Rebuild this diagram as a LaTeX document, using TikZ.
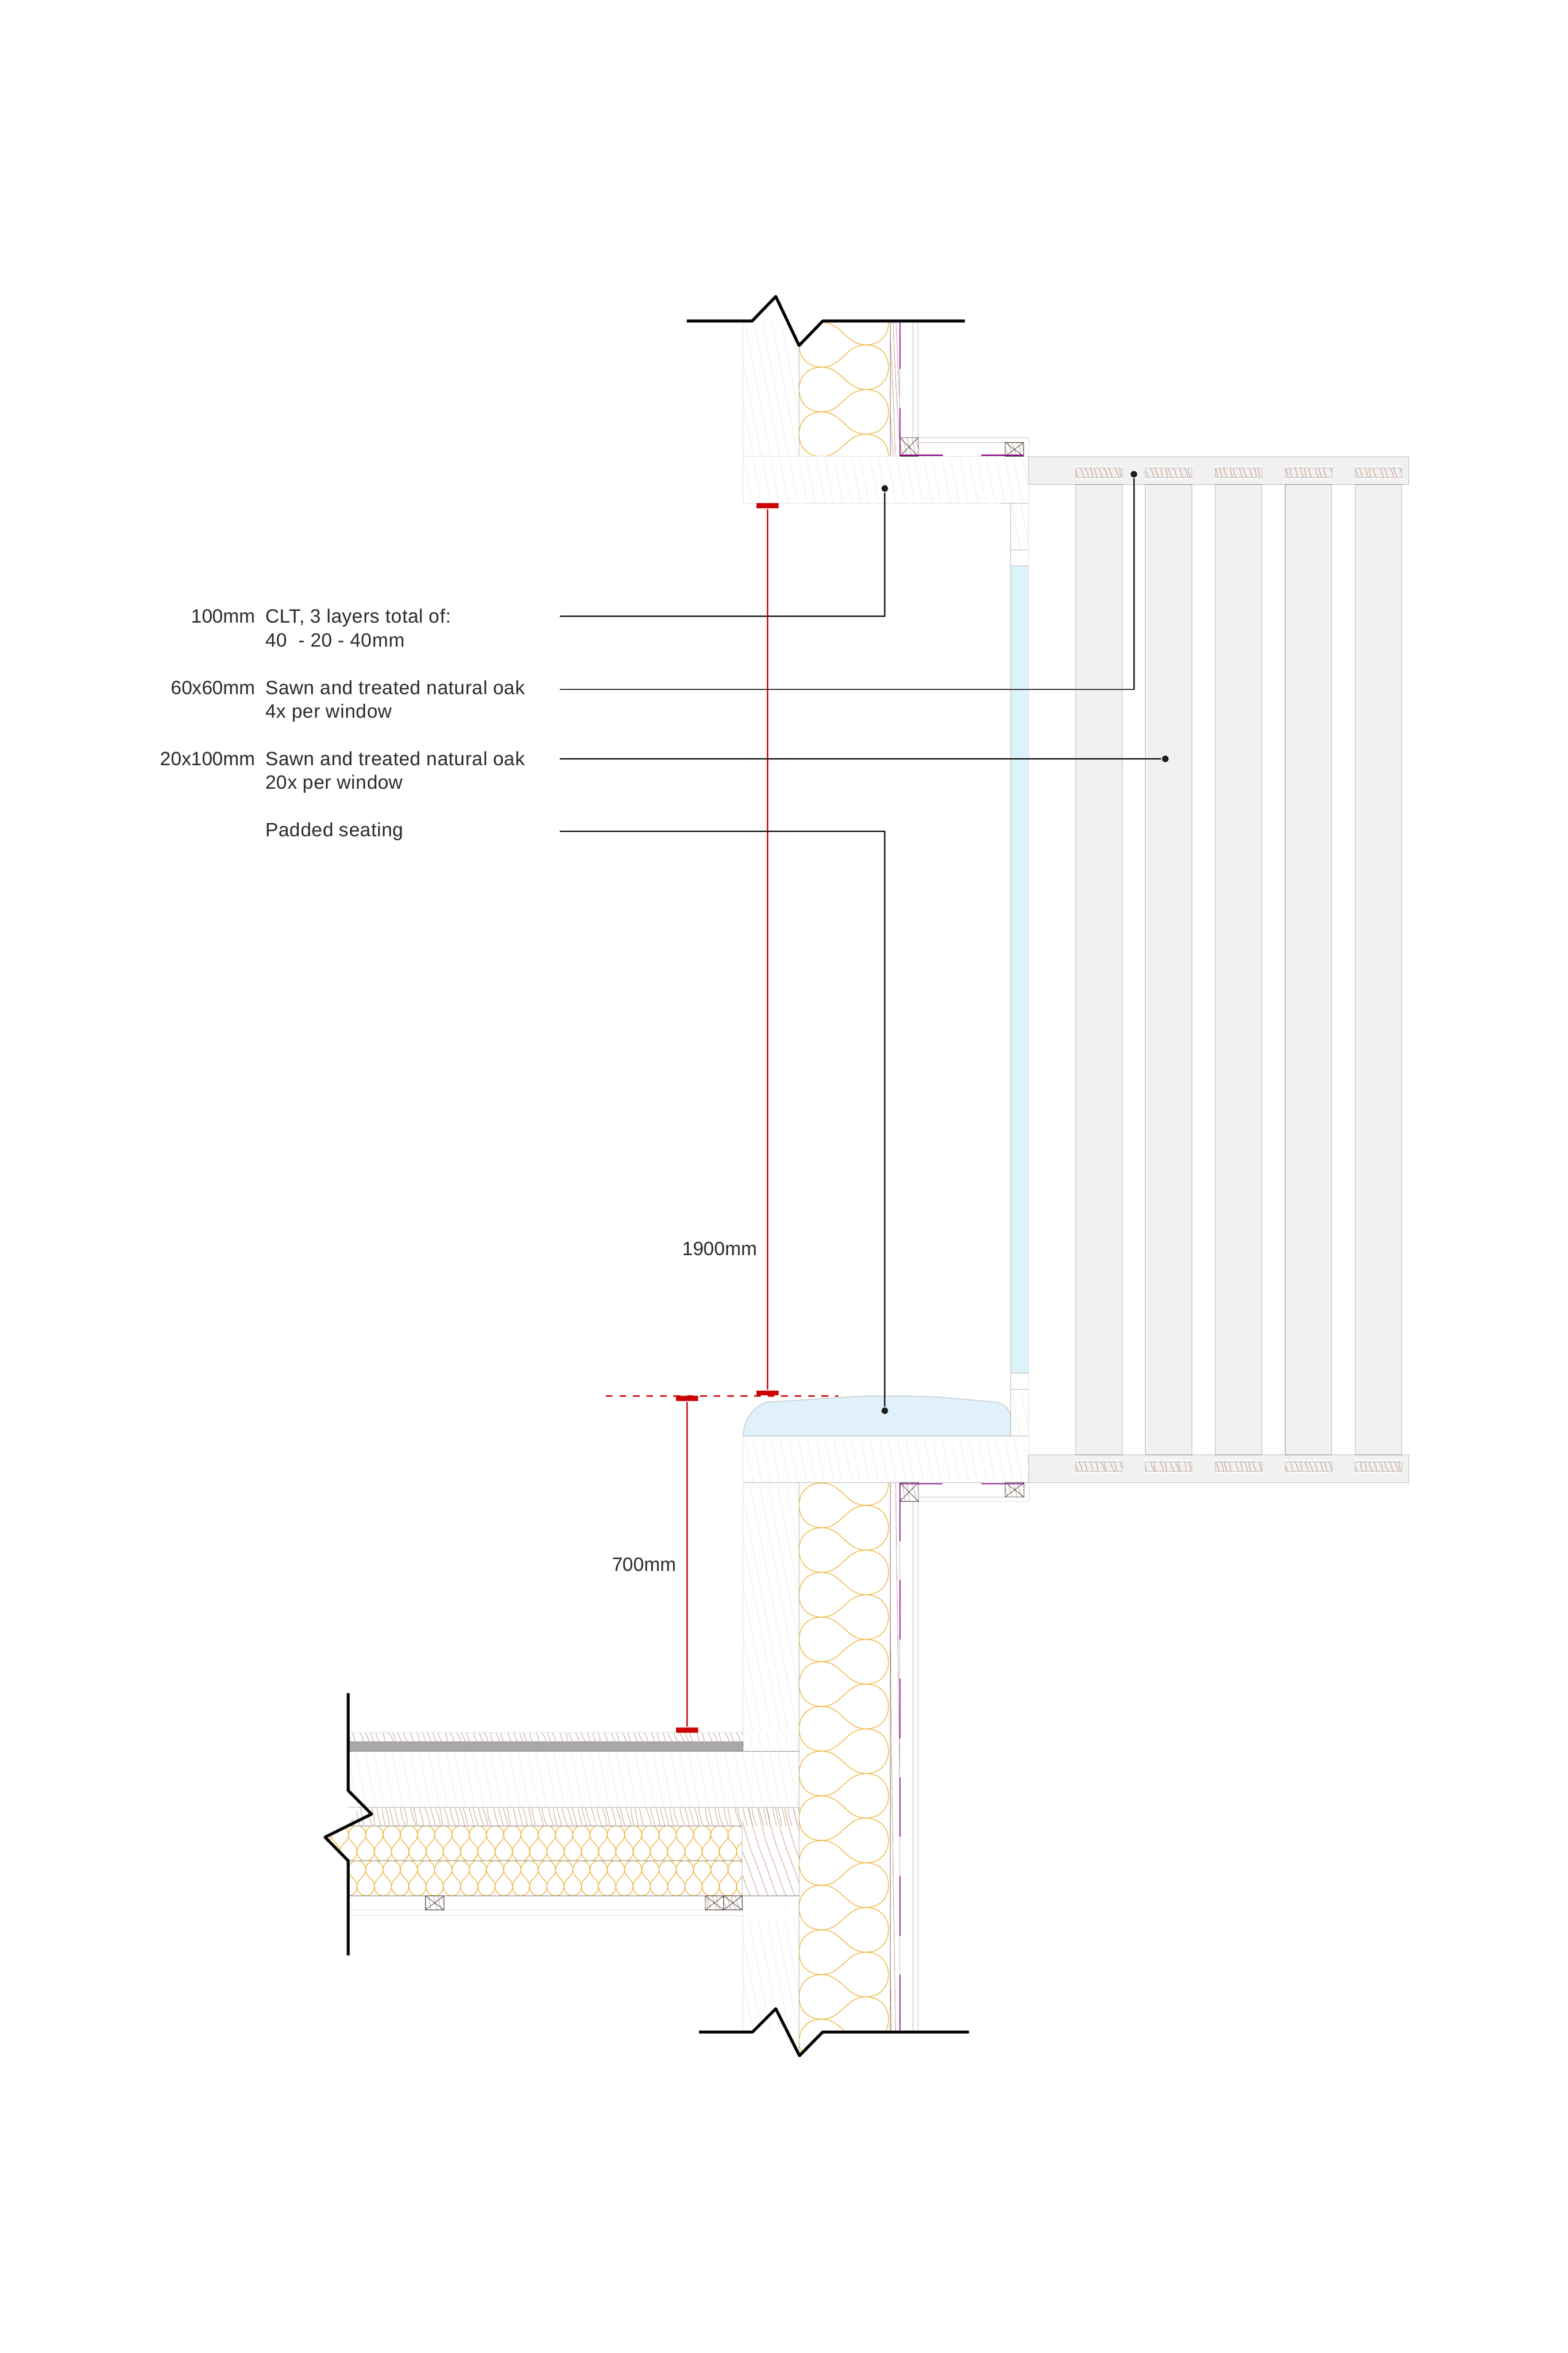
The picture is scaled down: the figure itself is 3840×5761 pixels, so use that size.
\documentclass[tikz,border=0pt]{standalone}
\usepackage{fontspec}
\setmainfont{Liberation Sans}
\definecolor{pale}{HTML}{DEDEDE}
\definecolor{midl}{HTML}{B4B4B4}
\definecolor{darkl}{HTML}{6E6E6E}
\definecolor{hatchc}{HTML}{EBEBEB}
\definecolor{grainc}{HTML}{BD8F7C}
\definecolor{slatc}{HTML}{C4866A}
\definecolor{insu}{HTML}{EDB02E}
\definecolor{purp}{HTML}{8E0F8E}
\definecolor{redd}{HTML}{CC0000}
\definecolor{clad}{HTML}{F1F1F1}
\definecolor{glass}{HTML}{DDF3FC}
\definecolor{cush}{HTML}{E0F1FB}
\definecolor{ink}{HTML}{1E1E1E}
\definecolor{labink}{HTML}{2C2C2C}
\tikzset{
  thinl/.style={line width=0.12pt,draw=midl},
  palel/.style={line width=0.15pt,draw=pale},
  darkline/.style={line width=0.11pt,draw=darkl},
  breakline/.style={line width=0.72pt,draw=black,line join=round},
  insuline/.style={line width=0.16pt,draw=insu},
  purpline/.style={line width=0.28pt,draw=purp},
  leader/.style={line width=0.32pt,draw=ink},
  dimline/.style={line width=0.3pt,draw=redd},
  tbar/.style={fill=redd,inner sep=0pt,minimum width=5.4pt,minimum height=1.25pt},
  ldot/.style={circle,fill=ink,inner sep=0pt,minimum size=1.6pt},
  lab/.style={inner sep=0pt,font=\fontsize{4.7pt}{5.6pt}\selectfont,text=labink},
  labw/.style={inner sep=0pt,font=\fontsize{4.7pt}{5.6pt}\selectfont\addfontfeature{LetterSpace=2},text=labink},
}
% hatching: x1 y1 x2 y2 step dx colour width wobble
\newcommand{\lineset}[9]{%
  \begin{scope}
    \clip (#1,#2) rectangle (#3,#4);
    \pgfmathsetmacro{\nn}{int((#3-#1+abs(#6))/#5)}
    \foreach \i in {0,...,\nn}{
      \pgfmathsetmacro{\xa}{#1-abs(#6)+#5*\i+rnd*#9}
      \pgfmathsetmacro{\xb}{\xa+#6+rnd*#9}
      \pgfmathsetmacro{\xc}{(\xa+\xb)/2+(rnd-0.5)*#9}
      \draw[line width=#8,draw=#7] (\xa,#2) .. controls (\xc,{(#2+#4)/2}) .. (\xb,#4);
    }
  \end{scope}}
\newcommand{\hatchrect}[4]{\lineset{#1}{#2}{#3}{#4}{22}{(#4-#2)*0.19}{hatchc}{0.1pt}{2}}
\newcommand{\woodrect}[6]{\lineset{#1}{#2}{#3}{#4}{#5}{#6}{grainc}{0.1pt}{6}}
\newcommand{\xbatten}[4]{%
  \woodrect{#1}{#2}{#3}{#4}{11}{6}%
  \draw[line width=0.09pt,draw=ink] (#1,#2) rectangle (#3,#4) (#1,#2) -- (#3,#4) (#1,#4) -- (#3,#2);}
\newcommand{\slat}[2]{%
  \draw[line width=0.35pt,draw=white,dash pattern=on 0.9pt off 0.5pt] ({#1-1},{#2-3}) -- ({#1+115},{#2-3}) ({#1-1},{#2+26}) -- ({#1+115},{#2+26});
  \lineset{#1}{#2}{#1+114}{#2+23}{12}{4}{slatc}{0.12pt}{6}%
  \draw[line width=0.11pt,draw=darkl] (#1,#2) -- ({#1+114},#2);
  \draw[line width=0.09pt,draw=midl] (#1,#2) rectangle ({#1+114},{#2+23});}
% wall insulation: first left-node y, last index
\newcommand{\wallpods}[2]{%
  \foreach \k in {-1,...,#2}{
    \pgfmathsetmacro{\ya}{#1+109.4*\k}
    \pgfmathsetmacro{\yb}{\ya+54.7}
    \pgfmathsetmacro{\yc}{\ya+109.4}
    \pgfmathsetmacro{\yd}{\ya+164.1}
    \draw[insuline] (2012,\ya) .. controls (1978,\ya) and (1957,{\ya+24}) .. (1957,\yb)
       .. controls (1957,{\yc-24}) and (1978,\yc) .. (2012,\yc);
    \draw[insuline] (2012,\ya) .. controls (2062,\ya) and (2071,\yb) .. (2121,\yb);
    \draw[insuline] (2012,\yc) .. controls (2062,\yc) and (2071,\yb) .. (2121,\yb);
    \draw[insuline] (2121,\yb) .. controls (2155,\yb) and (2176,{\yb+24}) .. (2176,\yc)
       .. controls (2176,{\yd-24}) and (2155,\yd) .. (2121,\yd);
  }}
% floor insulation row: top y
\newcommand{\floorpods}[1]{%
  \foreach \k in {0,...,24}{
    \pgfmathsetmacro{\xa}{769+42.25*\k}
    \pgfmathsetmacro{\xb}{\xa+21.1}
    \pgfmathsetmacro{\xc}{\xa+42.25}
    \pgfmathsetmacro{\xd}{\xa+63.4}
    \draw[insuline] (\xa,{#1+22}) .. controls (\xa,{#1+9}) and ({\xa+9},#1) .. (\xb,#1)
       .. controls ({\xc-9},#1) and (\xc,{#1+9}) .. (\xc,{#1+22});
    \draw[insuline] (\xa,{#1+22}) .. controls (\xa,{#1+40}) and (\xb,{#1+44}) .. (\xb,{#1+62});
    \draw[insuline] (\xc,{#1+22}) .. controls (\xc,{#1+40}) and (\xb,{#1+44}) .. (\xb,{#1+62});
    \draw[insuline] (\xb,{#1+62}) .. controls (\xb,{#1+75}) and ({\xb+9},{#1+85.5}) .. (\xc,{#1+85.5})
       .. controls ({\xd-9},{#1+85.5}) and (\xd,{#1+75}) .. (\xd,{#1+62});
  }}
\begin{document}
\begin{tikzpicture}[x=0.1pt,y=-0.1pt]
\pgfmathsetseed{17}
\fill[white] (0,0) rectangle (3840,5761);
\useasboundingbox (0,0) rectangle (3840,5761);

%% ---------- head: wall above window ----------
\hatchrect{1820}{786}{1957}{1117}
\hatchrect{1820}{1117}{2520}{1232}
\begin{scope}
  \clip (1950,846) -- (1957,846) -- (2015,786) -- (2180,786) -- (2180,1117) -- (1950,1117) -- cycle;
  \wallpods{789.6}{2}
\end{scope}
\woodrect{2180}{786}{2204}{1117}{9}{14}
\draw[palel] (1820,786) -- (1820,1232) -- (2520,1232) -- (2520,1117);
\draw[palel] (1820,1117) -- (2520,1117);
\draw[thinl] (2451,1232) -- (2520,1232);
\draw[thinl] (1957,846) -- (1957,1117);
\draw[darkline] (2180,786) -- (2180,1117);
\draw[thinl] (2204,786) -- (2204,1117);
\draw[thinl] (2236,786) -- (2236,1071) (2249,786) -- (2249,1071);
\draw[palel] (2249,1071.5) -- (2520,1071.5) -- (2520,1117);
\draw[thinl] (2249,1083.5) -- (2462,1083.5);
\xbatten{2204}{1071.5}{2249}{1117}
\xbatten{2462}{1083.5}{2507}{1117}
\draw[purpline] (2204,786) -- (2204,903) (2204,999) -- (2204,1117);
\draw[purpline] (2204,1115) -- (2309,1115) (2404,1115) -- (2507,1115);

%% ---------- window ----------
\hatchrect{2475}{1232}{2519}{1346}
\hatchrect{2475}{3402}{2519}{3516}
\fill[glass] (2475,1386) rectangle (2519,3362);
\draw[thinl] (2475,1232) -- (2475,3516);
\draw[palel] (2519,1232) -- (2519,3516);
\draw[thinl] (2475,1346) -- (2519,1346) (2475,1386) -- (2519,1386)
             (2475,3362) -- (2519,3362) (2475,3402) -- (2519,3402);

%% ---------- cladding ----------
\fill[clad] (2519,1118) rectangle (3450,1186);
\fill[clad] (2519,3562) rectangle (3450,3630);
\draw[thinl] (2519,1118) rectangle (3450,1186);
\draw[thinl] (2519,3562) rectangle (3450,3630);
\foreach \sx in {2634,2805.25,2976.5,3147.75,3319}{
  \fill[clad] (\sx,1186) rectangle ({\sx+114},3562);
  \draw[thinl] (\sx,1186) -- (\sx,3562) ({\sx+114},1186) -- ({\sx+114},3562);
  \draw[darkline] (\sx,1186) -- ({\sx+114},1186) (\sx,3562) -- ({\sx+114},3562);
  \slat{\sx}{1146}
  \slat{\sx}{3579}
}

%% ---------- sill and cushion ----------
\hatchrect{1820}{3516}{2520}{3630}
\draw[line width=0.12pt,draw=midl,fill=cush] (1820,3516) .. controls (1822,3480) and (1840,3445) .. (1879,3433)
  -- (2081,3420) .. controls (2120,3417) and (2220,3417) .. (2292,3420) -- (2443,3433)
  .. controls (2458,3438) and (2475,3450) .. (2475,3470) -- (2475,3516) -- cycle;
\draw[thinl] (1820,3516) -- (2520,3516) (1820,3630) -- (2520,3630);
\draw[palel] (1820,3516) -- (1820,3630) (2520,3516) -- (2520,3630);

%% ---------- wall below window ----------
\hatchrect{1820}{3630}{1957}{4242}
\hatchrect{1820}{4690}{1957}{4975}
\begin{scope}
  \clip (1950,3630) -- (2180,3630) -- (2180,4975) -- (2015,4975) -- (1958,5033) -- (1950,5033) -- cycle;
  \wallpods{3631}{12}
\end{scope}
\woodrect{2180}{3630}{2204}{4975}{12}{14}
\draw[thinl] (1957,3630) -- (1957,5033);
\draw[palel] (1820,3630) -- (1820,4242) (1820,4690) -- (1820,4975);
\draw[darkline] (2180,3630) -- (2180,4975);
\draw[thinl] (2204,3676) -- (2204,4975);
\draw[thinl] (2236,3676) -- (2236,4975) (2248,3676) -- (2248,4975);
\draw[palel] (2249,3676) -- (2520,3676) -- (2520,3630);
\draw[palel] (2249,3665) -- (2462,3665);
\xbatten{2204}{3630}{2249}{3676}
\xbatten{2462}{3630}{2508}{3665}
\draw[purpline] (2204,3630) -- (2204,3773) (2204,3868) -- (2204,4014) (2204,4110) -- (2204,4256)
                (2204,4352) -- (2204,4497) (2204,4594) -- (2204,4740) (2204,4835) -- (2204,4975);
\draw[purpline] (2204,3633) -- (2308,3633) (2404,3633) -- (2507,3633);

%% ---------- floor ----------
\woodrect{853}{4242}{1820}{4264}{14}{5}
\draw[palel] (853,4242) -- (1820,4242);
\fill[black!34] (853,4264) rectangle (1820,4287.5);
\draw[thinl] (853,4264) -- (1820,4264);
\draw[darkline] (1820,4264) -- (1820,4287.5) (853,4287.5) -- (1957,4287.5);
\hatchrect{853}{4287.5}{1957}{4424.5}
\hatchrect{1820}{4242}{1957}{4287.5}
\draw[palel] (1820,4242) -- (1820,4264);
\begin{scope}
  \clip (880,4424.5) -- (1957,4424.5) -- (1957,4470.5) -- (852,4470.5) -- cycle;
  \woodrect{853}{4424.5}{1957}{4470.5}{12}{8}
\end{scope}
\begin{scope}
  \clip (1819,4424.5) rectangle (1957,4641.5);
  \foreach \sx in {1745,1767,...,1950}{
    \draw[line width=0.1pt,draw=grainc] (\sx,4424.5) .. controls ({\sx+14},4490) and ({\sx+24},4520) .. ({\sx+40},4560)
       .. controls ({\sx+52},4590) and ({\sx+60},4620) .. ({\sx+70},4641.5);
  }
\end{scope}
\begin{scope}
  \clip (851,4470.5) -- (1818,4470.5) -- (1818,4556) -- (853,4556) -- (796,4498) -- cycle;
  \floorpods{4470.5}
\end{scope}
\begin{scope}
  \clip (853,4556) rectangle (1818,4641.5);
  \floorpods{4556}
\end{scope}
\draw[thinl] (853,4424.5) -- (1957,4424.5);
\draw[thinl] (852,4470.5) -- (1818,4470.5) -- (1818,4641.5);
\draw[line width=0.2pt,draw=midl] (853,4556) -- (1818,4556);
\draw[darkline] (853,4641.5) -- (1957,4641.5);
\draw[palel] (853,4676) -- (1819,4676) -- (1819,4690) -- (853,4690);
\xbatten{1042}{4641.5}{1087.5}{4676}
\xbatten{1727}{4641.5}{1772}{4676}
\xbatten{1772}{4641.5}{1818}{4676}

%% ---------- break lines ----------
\draw[breakline] (1682,786) -- (1842,786) -- (1900,726) -- (1957,846) -- (2015,786) -- (2363,786);
\draw[breakline] (1712,4975) -- (1843,4975) -- (1900,4918) -- (1958,5033) -- (2015,4975) -- (2373,4975);
\draw[breakline] (853,4145.5) -- (853,4384) -- (910,4441.5) -- (796,4498) -- (853,4556) -- (853,4787.5);

%% ---------- dimensions ----------
\node[tbar] (ta) at (1880,1238.5) {};
\node[tbar] (tb) at (1880,3410.5) {};
\node[tbar] (tc) at (1683,3424) {};
\node[tbar] (td) at (1683,4236) {};
\coordinate (da) at (1484,3418);
\coordinate (db) at (2053,3418);
\draw[dimline] (ta) -- (tb);
\draw[dimline] (tc) -- (td);
\draw[line width=0.4pt,draw=redd,dash pattern=on 1.65pt off 1.65pt] (da) -- (db);
\node[lab,anchor=base east] (dimA) at (1856,3074) {1900mm};
\node[lab,anchor=base east] (dimB) at (1658,3847) {700mm};

%% ---------- labels and leaders ----------
\node[lab,anchor=base east] (n1) at (627,1525) {100mm};
\node[labw,anchor=base west] (t1a) at (648,1525) {CLT, 3 layers total of:};
\node[labw,anchor=base west] (t1b) at (648,1583.4) {40\ \ - 20 - 40mm};
\node[lab,anchor=base east] (n2) at (627,1699.5) {60x60mm};
\node[labw,anchor=base west] (t2a) at (648,1699.5) {Sawn and treated natural oak};
\node[labw,anchor=base west] (t2b) at (648,1757.5) {4x per window};
\node[lab,anchor=base east] (n3) at (627,1873.6) {20x100mm};
\node[labw,anchor=base west] (t3a) at (648,1873.6) {Sawn and treated natural oak};
\node[labw,anchor=base west] (t3b) at (648,1931.7) {20x per window};
\node[labw,anchor=base west] (t4a) at (648,2047.8) {Padded seating};

\coordinate (s1) at (1371,1508.5);
\coordinate (s2) at (1371,1688);
\coordinate (s3) at (1371,1858);
\coordinate (s4) at (1371,2035);
\node[ldot] (e1) at (2167,1196) {};
\node[ldot] (e2) at (2777,1161) {};
\node[ldot] (e3) at (2854,1858) {};
\node[ldot] (e4) at (2167,3454) {};
\draw[leader] (s1) -| (e1);
\draw[leader] (s2) -| (e2);
\draw[leader] (s3) -- (e3);
\draw[leader] (s4) -| (e4);
\end{tikzpicture}
\end{document}
